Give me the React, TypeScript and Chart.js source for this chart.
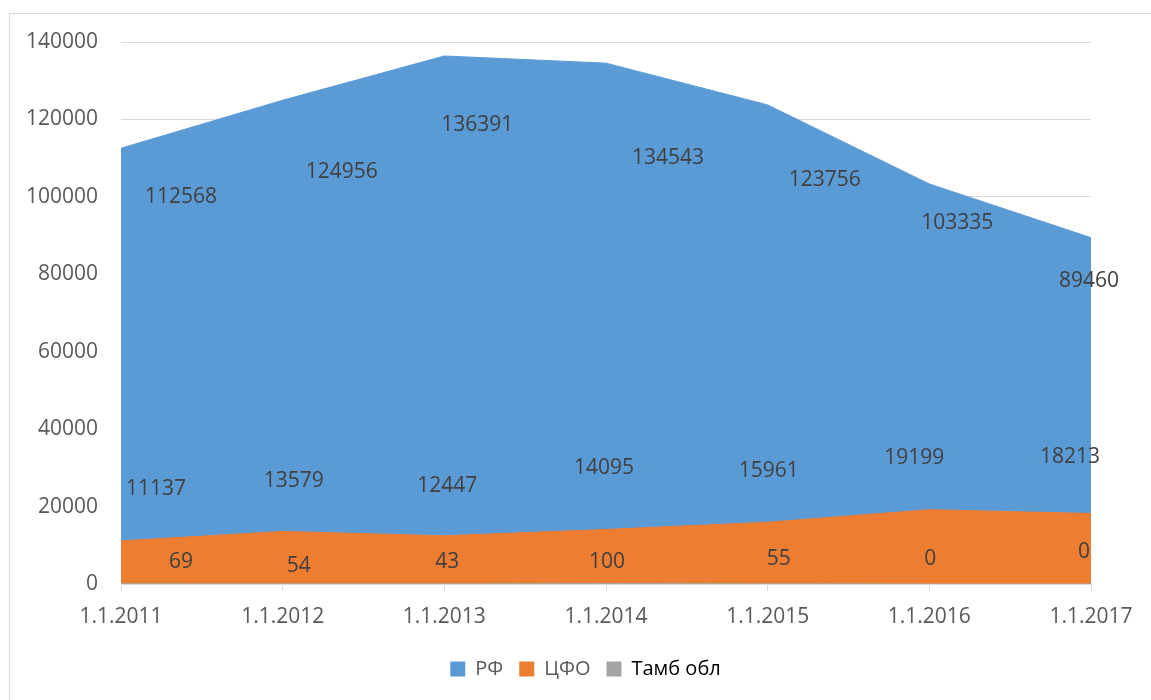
import React, { useEffect, useRef } from "react";
import { Chart, registerables } from "chart.js";

Chart.register(...registerables);

const categories = ["1.1.2011", "1.1.2012", "1.1.2013", "1.1.2014", "1.1.2015", "1.1.2016", "1.1.2017"];
const seriesNames = ["РФ", "ЦФО", "Тамб обл"];
const rfValues = [112568, 124956, 136391, 134543, 123756, 103335, 89460];
const cfoValues = [11137, 13579, 12447, 14095, 15961, 19199, 18213];
const tambValues = [69, 54, 43, 100, 55, 0, 0];
const yTicks = [0, 20000, 40000, 60000, 80000, 100000, 120000, 140000];

// label placement offsets (px) relative to each point, mimicking Excel's label layout
const rfLabelOffsets = [[60, 49], [59, 72], [33, 69], [62, 95], [57, 75], [28, 39], [-2, 43]];
const cfoLabelOffsets = [[35, -52], [11, -50], [3, -50], [-2, -61], [1, -51], [-15, -52], [-21, -56]];
const tambLabelOffsets = [[60, -22], [16, -18], [3, -22], [1, -22], [11, -25], [1, -25], [-7, -32]];

const COLORS = ["#5B9BD5", "#ED7D31", "#A5A5A5"];
const LEGEND_TEXT_COLORS = ["#595959", "#595959", "#000000"];
const FONT = "'Open Sans', sans-serif";

const labelPlugin = {
  id: "areaLabels",
  afterDatasetsDraw(chart: any) {
    const ctx = chart.ctx;
    const xs = chart.scales.x;
    const ys = chart.scales.y;
    const offsets = [rfLabelOffsets, cfoLabelOffsets, tambLabelOffsets];
    ctx.save();
    ctx.font = `21px ${FONT}`;
    ctx.fillStyle = "#404040";
    ctx.textAlign = "center";
    ctx.textBaseline = "middle";
    chart.data.datasets.forEach((ds: any, i: number) => {
      ds.data.forEach((v: number, j: number) => {
        const x = xs.getPixelForValue(j) + offsets[i][j][0];
        const y = ys.getPixelForValue(v) + offsets[i][j][1];
        ctx.fillText(String(v), x, y);
      });
    });
    ctx.restore();
  },
};

export default function App() {
  const ref = useRef<HTMLCanvasElement | null>(null);
  useEffect(() => {
    if (!ref.current) return;
    const values = [rfValues, cfoValues, tambValues];
    const chart = new Chart(ref.current, {
      type: "line",
      data: {
        labels: categories,
        datasets: seriesNames.map((name, i) => ({
          label: name,
          data: values[i],
          backgroundColor: COLORS[i],
          borderColor: COLORS[i],
          borderWidth: 1,
          pointRadius: 0,
          fill: "origin",
          tension: 0,
          order: 3 - i,
        })),
      },
      options: {
        animation: false,
        responsive: false,
        maintainAspectRatio: false,
        layout: { padding: { left: 0, right: 60, top: 42, bottom: 11 } },
        plugins: {
          tooltip: { enabled: false },
          legend: {
            position: "bottom",
            fullSize: false,
            labels: {
              font: { family: FONT, size: 20 },
              boxWidth: 15,
              boxHeight: 15,
              padding: 16,
              generateLabels: (c: any) => {
                const items = c.data.datasets.map((ds: any, i: number) => ({
                  text: ds.label,
                  fillStyle: COLORS[i],
                  strokeStyle: COLORS[i],
                  lineWidth: 0,
                  fontColor: LEGEND_TEXT_COLORS[i],
                  hidden: false,
                  datasetIndex: i,
                }));
                // invisible spacer item (shifts the centred row like Excel's legend)
                items.push({
                  text: "",
                  fillStyle: "rgba(0,0,0,0)",
                  strokeStyle: "rgba(0,0,0,0)",
                  lineWidth: 0,
                  fontColor: "rgba(0,0,0,0)",
                  hidden: false,
                });
                return items;
              },
            },
          },
        },
        scales: {
          x: {
            type: "category",
            offset: false,
            grid: { drawOnChartArea: false, drawTicks: true, tickLength: 7, color: "#D9D9D9" },
            border: { color: "#D9D9D9" },
            ticks: { color: "#595959", font: { family: FONT, size: 21 }, padding: 13, maxRotation: 0, autoSkip: false },
            afterFit: (s: any) => { s.height = 59; },
          },
          y: {
            min: 0,
            max: 140000,
            afterBuildTicks: (s: any) => { s.ticks = yTicks.map((v) => ({ value: v })); },
            grid: { color: "#D9D9D9", drawTicks: false, lineWidth: 1 },
            border: { display: false },
            ticks: {
              color: "#595959",
              font: { family: FONT, size: 21 },
              padding: 23,
              callback: (v: any) => String(v),
            },
            afterFit: (s: any) => { s.width = 121; },
          },
        },
      },
      plugins: [labelPlugin],
    } as any);
    return () => chart.destroy();
  }, []);
  return (
    <div style={{ position: "fixed", left: 0, top: 0, width: 1151, height: 700, overflow: "hidden", background: "#fff" }}>
      <div style={{ position: "absolute", left: 9, top: 13, width: 1300, height: 900, border: "1px solid #D9D9D9" }} />
      <canvas ref={ref} width={1151} height={700} style={{ position: "absolute", left: 0, top: 0 }} />
    </div>
  );
}
